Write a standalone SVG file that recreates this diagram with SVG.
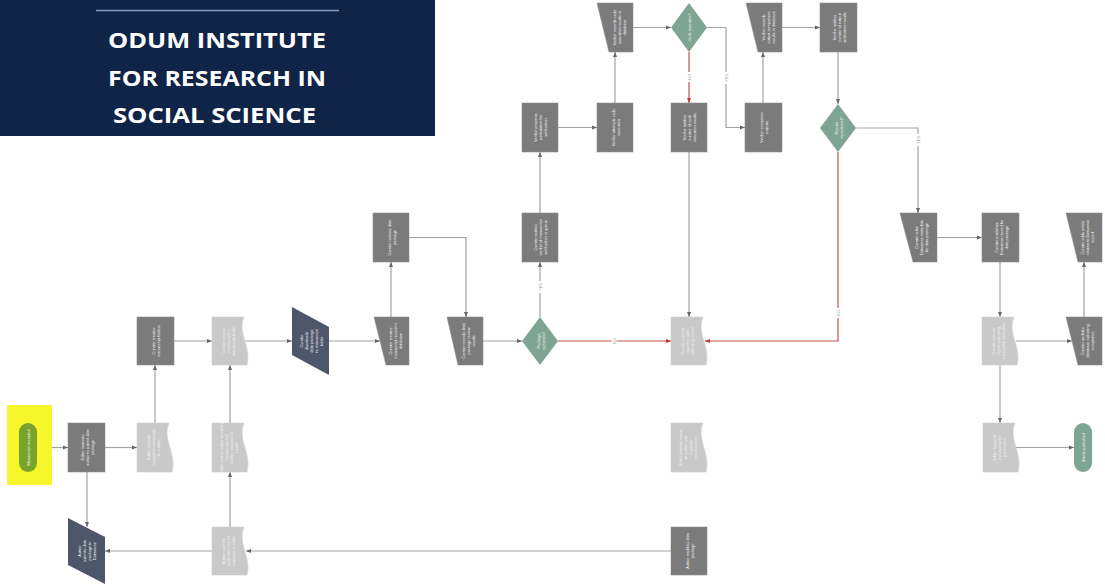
<svg xmlns="http://www.w3.org/2000/svg" width="1105" height="587" viewBox="0 0 1105 587">
<style>
.t{font-family:"Liberation Sans",Arial,sans-serif;font-size:3.9px;fill:#f3f3f3;text-anchor:middle;dominant-baseline:central}
.dk{fill:#7b7b7b;stroke:#8e8e8e;stroke-width:0.6}
.lt{fill:#c9c9c9;stroke:#d2d2d2;stroke-width:0.6}
.sl{fill:#4e576a}
.dm{fill:#7ea594}
.c{fill:none;stroke:#a3a3a3;stroke-width:1.2;marker-end:url(#ah)}
.r{fill:none;stroke:#c0504d;stroke-width:1.2;marker-end:url(#ahr)}
.lb{font-family:"Liberation Sans",Arial,sans-serif;font-size:4px;fill:#a0a0a0;text-anchor:middle;dominant-baseline:central}
.logo{font-family:"Open Sans","Liberation Sans",sans-serif;font-weight:bold;font-size:21px;fill:#ffffff;text-anchor:middle}
</style>
<defs>
<marker id="ah" viewBox="0 0 10 10" refX="10" refY="5" markerWidth="5" markerHeight="5" orient="auto" markerUnits="userSpaceOnUse"><path d="M0,1 L10,5 L0,9 z" fill="#666"/></marker>
<marker id="ahr" viewBox="0 0 10 10" refX="10" refY="5" markerWidth="5" markerHeight="5" orient="auto" markerUnits="userSpaceOnUse"><path d="M0,1 L10,5 L0,9 z" fill="#c0392b"/></marker>
</defs>
<rect width="1105" height="587" fill="#ffffff"/>
<g id="logo">
<rect x="0" y="0" width="435" height="136" fill="#0f2447"/>
<line x1="96" y1="10.5" x2="339" y2="10.5" stroke="#8d9dbb" stroke-width="1.5"/>
<text class="logo" x="217" y="48" textLength="218" lengthAdjust="spacingAndGlyphs">ODUM INSTITUTE</text>
<text class="logo" x="217" y="86" textLength="218" lengthAdjust="spacingAndGlyphs">FOR RESEARCH IN</text>
<text class="logo" x="214.5" y="123" textLength="203" lengthAdjust="spacingAndGlyphs">SOCIAL SCIENCE</text>
</g>
<g id="connectors">
<path class="c" d="M37,447.5 H68"/>
<path class="c" d="M105,447.5 H137"/>
<path class="c" d="M87,472 V527"/>
<path class="c" d="M155,423 V365"/>
<path class="c" d="M174,341 H212"/>
<path class="c" d="M230,423 V365"/>
<path class="c" d="M230,527 V472"/>
<path class="c" d="M671,551 H246"/>
<path class="c" d="M212,551 H105"/>
<path class="c" d="M245,341 H292"/>
<path class="c" d="M329,341 H380"/>
<path class="c" d="M391,317 V262"/>
<path class="c" d="M409,237.5 H466 V317"/>
<path class="c" d="M483,341 H522"/>
<path class="r" d="M558,341 H671"/>
<path class="c" d="M540,317 V262"/>
<path class="c" d="M540,213 V152"/>
<path class="c" d="M558,127.5 H597"/>
<path class="c" d="M615,103 V52"/>
<path class="c" d="M633,27.5 H671"/>
<path class="r" d="M689,52 V103"/>
<path class="c" d="M707,27.5 H726 V127.5 H745"/>
<path class="c" d="M689,152 V317"/>
<path class="c" d="M763,103 V52"/>
<path class="c" d="M782,27.5 H820"/>
<path class="c" d="M838,52 V104"/>
<path class="r" d="M838,152 V341 H705"/>
<path class="c" d="M856,128 H918 V213"/>
<path class="c" d="M937,237.5 H982"/>
<path class="c" d="M1000,262 V317"/>
<path class="c" d="M1016,341 H1072"/>
<path class="c" d="M1084,317 V262"/>
<path class="c" d="M1000,365 V423"/>
<path class="c" d="M1016,447.5 H1074"/>
<rect x="537.5" y="281" width="5" height="12" fill="#fff"/>
<text class="lb" transform="rotate(-90 540 287)" x="540" y="287">YES</text>
<rect x="611.5" y="336" width="5" height="10" fill="#fff"/>
<text class="lb" transform="rotate(-90 614 341)" x="614" y="341">NO</text>
<rect x="686.5" y="72" width="5" height="10" fill="#fff"/>
<text class="lb" transform="rotate(-90 689 77)" x="689" y="77">NO</text>
<rect x="723.5" y="72" width="5" height="12" fill="#fff"/>
<text class="lb" transform="rotate(-90 726 78)" x="726" y="78">YES</text>
<rect x="915.5" y="134" width="5" height="12" fill="#fff"/>
<text class="lb" transform="rotate(-90 918 140)" x="918" y="140">YES</text>
<rect x="835.5" y="308" width="5" height="10" fill="#fff"/>
<text class="lb" transform="rotate(-90 838 313)" x="838" y="313">NO</text>
</g>
<g id="n1">
<rect x="7" y="405" width="45" height="80" fill="#f6f62b"/>
<rect x="19" y="423" width="18" height="49" rx="9" fill="#78a42c"/>
<text class="t" transform="rotate(-90 28 447.5)"><tspan x="28" y="447.5">Manuscript accepted</tspan></text>
</g>
<g id="n2">
<rect class="dk" x="68" y="423" width="37" height="49"/>
<text class="t" transform="rotate(-90 86.5 447.5)"><tspan x="86.5" y="442.5">Editor instructs</tspan><tspan x="86.5" y="447.5">author to submit data</tspan><tspan x="86.5" y="452.5">package</tspan></text>
</g>
<g id="n3">
<path class="lt" d="M137,423 H169 C162,440 177,453 172,472 H137 Z"/>
<text class="t" transform="rotate(-90 153 447.5)"><tspan x="153" y="442.5">Editor submits</tspan><tspan x="153" y="447.5">accepted manuscript</tspan><tspan x="153" y="452.5">to curator</tspan></text>
</g>
<g id="n4">
<polygon class="sl" points="68,518 105,537 105,584 68,565"/>
<text class="t" transform="rotate(-90 86.5 551)"><tspan x="86.5" y="543.5">Author</tspan><tspan x="86.5" y="548.5">submits data</tspan><tspan x="86.5" y="553.5">package to</tspan><tspan x="86.5" y="558.5">Dataverse</tspan></text>
</g>
<g id="n5">
<rect class="dk" x="137" y="317" width="37" height="48"/>
<text class="t" transform="rotate(-90 155.5 341)"><tspan x="155.5" y="338.5">Curator creates</tspan><tspan x="155.5" y="343.5">manuscript folders</tspan></text>
</g>
<g id="n6">
<path class="lt" d="M212,317 H244 C237,334 252,347 247,365 H212 Z"/>
<text class="t" transform="rotate(-90 228 341)"><tspan x="228" y="336">Curator places</tspan><tspan x="228" y="341">manuscript in</tspan><tspan x="228" y="346">manuscript folder</tspan></text>
</g>
<g id="n7">
<path class="lt" d="M212,423 H244 C237,440 252,453 247,472 H212 Z"/>
<text class="t" transform="rotate(-90 228 447.5)"><tspan x="228" y="440">Editor invites author to edit the</tspan><tspan x="228" y="445">manuscript and</tspan><tspan x="228" y="450">author response to</tspan><tspan x="228" y="455">curator</tspan></text>
</g>
<g id="n8">
<path class="lt" d="M212,527 H244 C237,544 252,557 247,575 H212 Z"/>
<text class="t" transform="rotate(-90 228 551)"><tspan x="228" y="546">Author submits</tspan><tspan x="228" y="551">verification report</tspan><tspan x="228" y="556">response to editor</tspan></text>
</g>
<g id="n9">
<polygon class="sl" points="292,307 329,327 329,375 292,355"/>
<text class="t" transform="rotate(-90 310.5 341)"><tspan x="310.5" y="331">Curator</tspan><tspan x="310.5" y="336">downloads</tspan><tspan x="310.5" y="341">data package</tspan><tspan x="310.5" y="346">to manuscript</tspan><tspan x="310.5" y="351">folder</tspan></text>
</g>
<g id="n10">
<polygon class="dk" points="374,317 409,317 409,365 386,365"/>
<text class="t" transform="rotate(-90 395 341)"><tspan x="395" y="336">Curator creates</tspan><tspan x="395" y="341">manuscript record in</tspan><tspan x="395" y="346">database</tspan></text>
</g>
<g id="n11">
<rect class="dk" x="373" y="213" width="36" height="49"/>
<text class="t" transform="rotate(-90 391 237.5)"><tspan x="391" y="235">Curator reviews data</tspan><tspan x="391" y="240">package</tspan></text>
</g>
<g id="n12">
<polygon class="dk" points="447,317 483,317 483,365 458,365"/>
<text class="t" transform="rotate(-90 468 341)"><tspan x="468" y="336">Curator records data</tspan><tspan x="468" y="341">package review</tspan><tspan x="468" y="346">results</tspan></text>
</g>
<g id="n13">
<polygon class="dm" points="540,317 558,341 540,365 522,341"/>
<text class="t" transform="rotate(-90 540 341)"><tspan x="540" y="338.5">Package</tspan><tspan x="540" y="343.5">complete?</tspan></text>
</g>
<g id="n14">
<rect class="dk" x="522" y="213" width="36" height="49"/>
<text class="t" transform="rotate(-90 540 237.5)"><tspan x="540" y="232.5">Curator notifies</tspan><tspan x="540" y="237.5">verifier of manuscript</tspan><tspan x="540" y="242.5">verification in queue</tspan></text>
</g>
<g id="n15">
<rect class="dk" x="522" y="103" width="36" height="49"/>
<text class="t" transform="rotate(-90 540 127.5)"><tspan x="540" y="122.5">Verifier prepares</tspan><tspan x="540" y="127.5">workstation for</tspan><tspan x="540" y="132.5">verification</tspan></text>
</g>
<g id="n16">
<rect class="dk" x="597" y="103" width="36" height="49"/>
<text class="t" transform="rotate(-90 615 127.5)"><tspan x="615" y="125">Verifier attempts code</tspan><tspan x="615" y="130">execution</tspan></text>
</g>
<g id="n17">
<polygon class="dk" points="597,3 633,3 633,52 609,52"/>
<text class="t" transform="rotate(-90 619 27.5)"><tspan x="619" y="22.5">Verifier records code</tspan><tspan x="619" y="27.5">execution results in</tspan><tspan x="619" y="32.5">database</tspan></text>
</g>
<g id="n18">
<polygon class="dm" points="689,3 707,27.5 689,52 671,27.5"/>
<text class="t" transform="rotate(-90 689 27.5)"><tspan x="689" y="27.5">Code executes?</tspan></text>
</g>
<g id="n19">
<rect class="dk" x="671" y="103" width="36" height="49"/>
<text class="t" transform="rotate(-90 689 127.5)"><tspan x="689" y="122.5">Verifier notifies</tspan><tspan x="689" y="127.5">curator of code</tspan><tspan x="689" y="132.5">execution results</tspan></text>
</g>
<g id="n20">
<rect class="dk" x="745" y="103" width="37" height="49"/>
<text class="t" transform="rotate(-90 763.5 127.5)"><tspan x="763.5" y="125">Verifier compares</tspan><tspan x="763.5" y="130">outputs</tspan></text>
</g>
<g id="n22">
<polygon class="dk" points="746,3 782,3 782,52 758,52"/>
<text class="t" transform="rotate(-90 768 27.5)"><tspan x="768" y="22.5">Verifier records</tspan><tspan x="768" y="27.5">output comparison</tspan><tspan x="768" y="32.5">results in database</tspan></text>
</g>
<g id="n23">
<rect class="dk" x="820" y="3" width="37" height="49"/>
<text class="t" transform="rotate(-90 838.5 27.5)"><tspan x="838.5" y="22.5">Verifier notifies</tspan><tspan x="838.5" y="27.5">curator of output</tspan><tspan x="838.5" y="32.5">verification results</tspan></text>
</g>
<g id="n24">
<polygon class="dm" points="838,104 856,128 838,152 820,128"/>
<text class="t" transform="rotate(-90 838 128)"><tspan x="838" y="125.5">Results</tspan><tspan x="838" y="130.5">reproduced?</tspan></text>
</g>
<g id="n21">
<path class="lt" d="M671,317 H703 C696,334 711,347 706,365 H671 Z"/>
<text class="t" transform="rotate(-90 687 341)"><tspan x="687" y="336">Curator submits</tspan><tspan x="687" y="341">report to editor</tspan><tspan x="687" y="346">indicating issues</tspan></text>
</g>
<g id="n26">
<path class="lt" d="M671,423 H703 C696,440 711,453 706,472 H671 Z"/>
<text class="t" transform="rotate(-90 687 447.5)"><tspan x="687" y="440">Editor submits report</tspan><tspan x="687" y="445">to author and</tspan><tspan x="687" y="450">requests</tspan><tspan x="687" y="455">resubmission</tspan></text>
</g>
<g id="n27">
<rect class="dk" x="671" y="527" width="36" height="48"/>
<text class="t" transform="rotate(-90 689 551)"><tspan x="689" y="548.5">Author modifies data</tspan><tspan x="689" y="553.5">package</tspan></text>
</g>
<g id="n25">
<polygon class="dk" points="900,213 937,213 937,262 913,262"/>
<text class="t" transform="rotate(-90 921 237.5)"><tspan x="921" y="232.5">Curator edits</tspan><tspan x="921" y="237.5">Dataverse metadata</tspan><tspan x="921" y="242.5">for data package</tspan></text>
</g>
<g id="n28">
<rect class="dk" x="982" y="213" width="37" height="49"/>
<text class="t" transform="rotate(-90 1000.5 237.5)"><tspan x="1000.5" y="232.5">Curator publishes</tspan><tspan x="1000.5" y="237.5">Dataverse record for</tspan><tspan x="1000.5" y="242.5">data package</tspan></text>
</g>
<g id="n29">
<path class="lt" d="M982,317 H1014 C1007,334 1022,347 1017,365 H982 Z"/>
<text class="t" transform="rotate(-90 998 341)"><tspan x="998" y="336">Curator submits</tspan><tspan x="998" y="341">report indicating</tspan><tspan x="998" y="346">successful replication</tspan></text>
</g>
<g id="n30">
<polygon class="dk" points="1066,317 1102,317 1102,365 1078,365"/>
<text class="t" transform="rotate(-90 1087 341)"><tspan x="1087" y="336">Curator updates</tspan><tspan x="1087" y="341">database indicating</tspan><tspan x="1087" y="346">completion</tspan></text>
</g>
<g id="n32">
<polygon class="dk" points="1066,213 1102,213 1102,262 1078,262"/>
<text class="t" transform="rotate(-90 1087 237.5)"><tspan x="1087" y="232.5">Curator adds article</tspan><tspan x="1087" y="237.5">citation to Dataverse</tspan><tspan x="1087" y="242.5">record</tspan></text>
</g>
<g id="n31">
<path class="lt" d="M983,423 H1015 C1008,440 1023,453 1018,472 H983 Z"/>
<text class="t" transform="rotate(-90 999 447.5)"><tspan x="999" y="442.5">Editor forwards</tspan><tspan x="999" y="447.5">manuscript for</tspan><tspan x="999" y="452.5">publication</tspan></text>
</g>
<g id="n33">
<rect x="1074" y="423" width="18" height="49" rx="9" fill="#7ea594"/>
<text class="t" transform="rotate(-90 1083 447.5)"><tspan x="1083" y="447.5">Article published</tspan></text>
</g>
</svg>
